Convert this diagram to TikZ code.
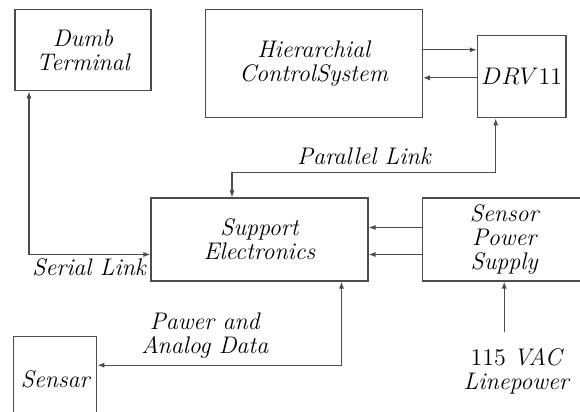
\documentclass[tikz,border=0pt]{standalone}
\usepackage{fontspec}
\usetikzlibrary{arrows.meta, positioning}

\begin{document}
\begin{tikzpicture}[font=\fontsize{12}{12}\selectfont\itshape,
    box/.style={draw=black!70, line width=0.6pt, align=center, inner sep=2pt, minimum height=41.5pt},
    arr/.style={-{Latex[length=3.5pt, width=2.6pt]}, draw=black!70, line width=0.6pt},
    dbl/.style={{Latex[length=3.5pt, width=2.6pt]}-{Latex[length=3.5pt, width=2.6pt]}, draw=black!70, line width=0.6pt}
]
  \useasboundingbox (-129.75pt,-86.25pt) rectangle (160.25pt,119.75pt);

  \node[box, minimum width=108.5pt] (sup) {Support\\Electronics};
  \node[box, minimum width=82pt, right=26.5pt of sup] (sps) {Sensor\\Power\\Supply};
  \node[box, minimum width=108.5pt, minimum height=54pt, above right=39.5pt and -82pt of sup] (hcs) {Hierarchial\\ControlSystem};
  \node[box, minimum width=41pt, minimum height=41pt, above right=0pt and 27pt of hcs.south east] (drv) {$DRV11$};
  \node[box, minimum width=68pt, minimum height=40.5pt, below left=0pt and 26.5pt of hcs.north west] (term) {Dumb\\Terminal};
  \node[box, minimum width=41.5pt, minimum height=43pt, below left=27pt and 26.5pt of sup.south west] (sensar) {Sensar};
  \node[align=center, below=30pt of sps, xshift=6pt] (line) {\upshape 115 \itshape VAC\\Linepower};

  \draw[arr] ([yshift=7pt]hcs.east) -- ([yshift=7pt]hcs.east -| drv.west);
  \draw[arr] ([yshift=-7pt]hcs.east -| drv.west) -- ([yshift=-7pt]hcs.east);
  \draw[dbl] ([xshift=-13pt]drv.south) -- ++(0,-27pt)
    -| node[above, pos=0.25] {Parallel Link} ([xshift=-13.75pt]sup.north);
  \draw[dbl] ([xshift=-27pt]term.south) |- node[below left, pos=1, inner sep=2pt] {Serial Link} ([yshift=-7.5pt]sup.west);
  \draw[arr] ([yshift=6pt]sps.west) -- ([yshift=6pt]sup.east);
  \draw[arr] ([yshift=-7.5pt]sps.west) -- ([yshift=-7.5pt]sup.east);
  \draw[dbl] ([xshift=41pt]sup.south) |- node[above, pos=0.78, align=center] {Pawer and\\Analog Data} ([yshift=7pt]sensar.east);
  \draw[arr] ([yshift=5pt]sps.south |- line.north) -- (sps.south);
\end{tikzpicture}
\end{document}
